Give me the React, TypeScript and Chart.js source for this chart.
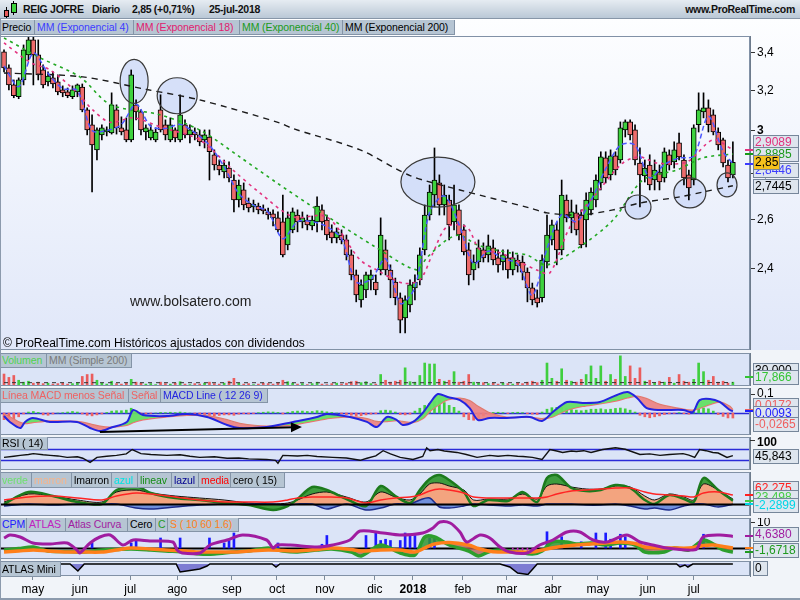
import React, { useEffect, useRef } from "react";
import { Chart, registerables } from "chart.js";

Chart.register(...registerables);

const FONT = '"Liberation Sans", Arial, sans-serif';
const XMIN = -0.82;
const XMAX = 152.5;
const AXIS_W = 50;

// ---------------- DATA ----------------
// candles (one candle per ~2 trading days), may-2017 .. 25-jul-2018
const opens = [
  3.406, 3.319, 3.229, 3.168, 3.255, 3.389, 3.472, 3.389, 3.308, 3.245,
  3.266, 3.245, 3.203, 3.193, 3.168, 3.193, 3.218, 3.102, 3.028, 2.908,
  2.979, 2.993, 2.988, 3.102, 3.013, 3.003, 2.955, 3.127, 3.092, 2.993,
  2.964, 2.955, 3.102, 3.028, 2.955, 3.003, 2.955, 3.028, 2.979, 2.993,
  2.979, 2.955, 2.969, 2.885, 2.838, 2.806, 2.824, 2.77, 2.682, 2.726,
  2.669, 2.652, 2.656, 2.644, 2.631, 2.623, 2.606, 2.589, 2.495, 2.556,
  2.618, 2.589, 2.597, 2.572, 2.589, 2.64, 2.597, 2.548, 2.523, 2.535,
  2.515, 2.455, 2.377, 2.283, 2.32, 2.358, 2.35, 2.396, 2.475, 2.396,
  2.35, 2.291, 2.218, 2.265, 2.328, 2.358, 2.475, 2.618, 2.704, 2.757,
  2.661, 2.682, 2.589, 2.64, 2.556, 2.475, 2.396, 2.427, 2.475, 2.455,
  2.483, 2.443, 2.427, 2.443, 2.396, 2.435, 2.427, 2.388, 2.328, 2.291,
  2.291, 2.427, 2.515, 2.556, 2.475, 2.682, 2.606, 2.627, 2.618, 2.597,
  2.64, 2.682, 2.757, 2.871, 2.793, 2.88, 2.861, 3.003, 3.042, 3.003,
  2.847, 2.788, 2.838, 2.77, 2.806, 2.779, 2.885, 2.852, 2.941, 2.861,
  2.793, 2.77, 3.028, 3.092, 3.112, 3.077, 2.993, 2.955, 2.838, 2.793,
];
const highs = [
  3.417, 3.335, 3.255, 3.266, 3.444, 3.489, 3.489, 3.472, 3.335, 3.298,
  3.298, 3.282, 3.224, 3.213, 3.224, 3.234, 3.234, 3.112, 3.077, 3.013,
  3.028, 3.018, 3.188, 3.127, 3.067, 3.062, 3.308, 3.152, 3.102, 3.028,
  3.028, 3.013, 3.178, 3.052, 3.062, 3.013, 3.178, 3.052, 3.028, 3.013,
  3.003, 3.003, 3.003, 2.908, 2.861, 2.861, 2.852, 2.793, 2.77, 2.757,
  2.691, 2.682, 2.669, 2.661, 2.648, 2.64, 2.631, 2.704, 2.631, 2.648,
  2.64, 2.631, 2.618, 2.614, 2.696, 2.661, 2.618, 2.577, 2.564, 2.556,
  2.535, 2.475, 2.396, 2.358, 2.388, 2.396, 2.377, 2.606, 2.515, 2.416,
  2.365, 2.309, 2.298, 2.358, 2.377, 2.483, 2.661, 2.748, 2.917, 2.793,
  2.748, 2.704, 2.748, 2.661, 2.577, 2.503, 2.455, 2.515, 2.503, 2.535,
  2.515, 2.475, 2.475, 2.475, 2.467, 2.455, 2.451, 2.404, 2.346, 2.32,
  2.455, 2.618, 2.597, 2.589, 2.77, 2.704, 2.682, 2.661, 2.64, 2.713,
  2.735, 2.793, 2.899, 2.899, 2.908, 2.899, 3.042, 3.052, 3.052, 3.028,
  2.917, 2.861, 2.885, 2.861, 2.838, 2.917, 2.908, 2.946, 2.988, 2.885,
  2.815, 3.028, 3.188, 3.188, 3.152, 3.102, 3.013, 2.964, 2.861, 2.946,
];
const lows = [
  3.298, 3.203, 3.163, 3.158, 3.229, 3.362, 3.229, 3.255, 3.213, 3.224,
  3.213, 3.178, 3.168, 3.163, 3.158, 3.168, 3.092, 2.979, 2.717, 2.861,
  2.955, 2.974, 2.983, 2.983, 2.979, 2.946, 2.946, 3.052, 2.979, 2.955,
  2.955, 2.946, 2.993, 2.955, 2.946, 2.946, 2.946, 2.964, 2.941, 2.955,
  2.927, 2.917, 2.77, 2.815, 2.793, 2.779, 2.761, 2.631, 2.652, 2.64,
  2.631, 2.631, 2.623, 2.623, 2.601, 2.572, 2.548, 2.447, 2.475, 2.544,
  2.548, 2.564, 2.556, 2.556, 2.548, 2.556, 2.515, 2.503, 2.503, 2.499,
  2.435, 2.358, 2.276, 2.257, 2.291, 2.32, 2.302, 2.377, 2.377, 2.291,
  2.265, 2.165, 2.165, 2.239, 2.283, 2.339, 2.455, 2.597, 2.652, 2.618,
  2.618, 2.515, 2.556, 2.515, 2.455, 2.339, 2.358, 2.404, 2.427, 2.427,
  2.416, 2.388, 2.396, 2.365, 2.377, 2.388, 2.358, 2.276, 2.265, 2.257,
  2.276, 2.404, 2.495, 2.416, 2.455, 2.589, 2.544, 2.535, 2.483, 2.487,
  2.618, 2.652, 2.726, 2.757, 2.77, 2.793, 2.847, 2.969, 2.955, 2.838,
  2.652, 2.761, 2.726, 2.726, 2.726, 2.761, 2.815, 2.824, 2.861, 2.748,
  2.682, 2.748, 2.993, 3.062, 2.993, 2.979, 2.908, 2.829, 2.761, 2.779,
];
const closes = [
  3.319, 3.229, 3.173, 3.255, 3.417, 3.472, 3.389, 3.282, 3.229, 3.276,
  3.234, 3.193, 3.188, 3.173, 3.203, 3.229, 3.102, 3.003, 2.931, 3.003,
  3.013, 3.003, 3.127, 3.013, 2.993, 2.955, 3.282, 3.092, 3.003, 3.013,
  3.003, 2.993, 3.003, 2.979, 3.028, 2.964, 3.077, 2.979, 3.003, 2.979,
  2.946, 2.979, 2.899, 2.838, 2.815, 2.838, 2.779, 2.682, 2.748, 2.661,
  2.648, 2.665, 2.64, 2.635, 2.618, 2.606, 2.556, 2.455, 2.606, 2.631,
  2.589, 2.606, 2.577, 2.597, 2.656, 2.589, 2.535, 2.523, 2.548, 2.515,
  2.455, 2.377, 2.302, 2.339, 2.377, 2.377, 2.32, 2.535, 2.396, 2.358,
  2.291, 2.21, 2.283, 2.339, 2.35, 2.455, 2.618, 2.717, 2.77, 2.661,
  2.704, 2.577, 2.661, 2.535, 2.467, 2.377, 2.427, 2.483, 2.443, 2.491,
  2.435, 2.416, 2.455, 2.396, 2.443, 2.412, 2.388, 2.328, 2.283, 2.272,
  2.435, 2.535, 2.577, 2.475, 2.704, 2.606, 2.631, 2.556, 2.495, 2.682,
  2.717, 2.77, 2.875, 2.779, 2.88, 2.815, 3.013, 3.042, 2.979, 2.861,
  2.793, 2.824, 2.748, 2.815, 2.761, 2.899, 2.838, 2.908, 2.875, 2.779,
  2.735, 3.013, 3.102, 3.112, 3.028, 2.993, 2.931, 2.847, 2.779, 2.85,
];

const monthTickPos = [5.9, 15.5, 25.8, 35.4, 46.6, 55.8, 65.6, 75.8, 83.6, 93.8, 102.8, 112.2, 121.4, 131.6, 141.0];
const monthTickLabels = ["may", "jun", "jul", "ago", "sep", "oct", "nov", "dic", "2018", "feb", "mar", "abr", "may", "jun", "jul"];
const priceTicks = [2.4, 2.6, 2.8, 3.0, 3.2, 3.4];

const ema4Pts = [[0, 3.33], [3, 3.22], [6, 3.4], [9, 3.29], [12, 3.21], [15, 3.2], [18, 3.0], [21, 3.0], [24, 3.03], [27, 3.13], [30, 3.02], [33, 3.01], [36, 3.03], [39, 2.99], [42, 2.93], [45, 2.83], [48, 2.71], [51, 2.66], [54, 2.63], [57, 2.52], [60, 2.59], [63, 2.59], [66, 2.57], [69, 2.52], [72, 2.35], [75, 2.36], [78, 2.44], [81, 2.27], [84, 2.33], [87, 2.63], [90, 2.7], [93, 2.58], [96, 2.42], [99, 2.47], [102, 2.44], [105, 2.42], [108, 2.3], [111, 2.48], [114, 2.62], [117, 2.59], [120, 2.68], [123, 2.82], [126, 2.93], [129, 2.93], [132, 2.78], [135, 2.84], [138, 2.87], [141, 2.88], [144, 3.07], [147, 2.9], [149, 2.8446]];
const ema18Pts = [[0, 3.455], [5.5, 3.346], [9.4, 3.308], [14.9, 3.19], [18.2, 3.1], [21.7, 3.04], [26.4, 3.062], [31.9, 3.018], [40, 2.955], [46.8, 2.815], [52.3, 2.713], [59.1, 2.61], [66, 2.61], [72.8, 2.435], [76.2, 2.396], [81.5, 2.346], [85, 2.358], [87.7, 2.463], [90.5, 2.568], [94.6, 2.568], [97.3, 2.475], [101.4, 2.463], [108.9, 2.396], [111.6, 2.385], [115.7, 2.568], [121.2, 2.713], [126.5, 2.847], [130, 2.875], [133.5, 2.847], [139.6, 2.852], [144.9, 2.955], [149, 2.9089]];
const ema40Pts = [[0, 3.483], [7.4, 3.373], [15.5, 3.271], [21.7, 3.129], [31.9, 3.077], [40, 3.003], [48.2, 2.875], [55.8, 2.757], [62.5, 2.661], [76.2, 2.483], [84.4, 2.396], [86.4, 2.443], [90.5, 2.515], [93.2, 2.535], [96.7, 2.495], [103.4, 2.463], [106.9, 2.455], [111, 2.416], [117.7, 2.487], [124.5, 2.597], [130.6, 2.77], [137.5, 2.815], [142.9, 2.871], [149, 2.8885]];
const ema200Pts = [[0, 3.292], [16.1, 3.271], [29.2, 3.205], [40, 3.152], [56.4, 3.037], [59, 3.01], [72.8, 2.908], [83, 2.79], [93.2, 2.726], [107.5, 2.648], [111, 2.627], [117.7, 2.618], [124.5, 2.64], [130, 2.669], [138.2, 2.696], [142.9, 2.717], [149, 2.7445]];

// volume (thousands)
const volumes = [
  25, 18, 22, 12, 8, 10, 6, 8, 5, 6,
  4, 5, 6, 4, 5, 7, 20, 24, 25, 12,
  6, 4, 10, 5, 4, 6, 14, 8, 6, 4,
  5, 3, 8, 5, 4, 6, 9, 4, 3, 5,
  4, 6, 8, 5, 4, 6, 10, 16, 6, 4,
  5, 3, 4, 6, 5, 4, 7, 12, 9, 6,
  4, 5, 3, 5, 8, 4, 3, 5, 6, 4,
  6, 9, 10, 7, 9, 5, 4, 24, 12, 8,
  10, 12, 38, 9, 8, 22, 48, 46, 46, 14,
  10, 12, 30, 8, 10, 24, 8, 6, 7, 5,
  6, 4, 6, 5, 4, 6, 5, 8, 10, 7,
  12, 48, 16, 10, 36, 12, 10, 8, 14, 24,
  42, 16, 42, 10, 24, 14, 63, 20, 42, 16,
  38, 10, 12, 6, 10, 8, 18, 6, 24, 10,
  8, 14, 48, 30, 12, 20, 8, 10, 6, 8,
];
const volumeMMPts = [[0, 7], [75, 6.8], [149, 7.2]];

// MACD
const macdX = [0, 1.2, 3.3, 4.3, 5.9, 9.4, 14.9, 17.6, 19.6, 21.7, 25.1, 26.4, 28.4, 33.3, 37.4, 41.5, 45.6, 48.2, 53.7, 59.1, 64, 66, 70.7, 74.2, 76.2, 78.3, 80.3, 81.5, 83.6, 85.6, 87.1, 88.7, 90.7, 93.2, 95.2, 96.9, 99.3, 102.8, 107.5, 110, 112.2, 115.1, 118.3, 121.8, 125.3, 127.5, 129.4, 131.4, 134.1, 138.8, 140.8, 142.2, 144.3, 146.3, 148.4, 149];
const macdLine = [-0.016, -0.047, -0.079, -0.047, -0.026, -0.047, -0.047, -0.079, -0.095, -0.079, -0.047, 0.016, -0.011, -0.016, -0.005, -0.021, -0.063, -0.079, -0.074, -0.047, -0.021, -0.005, -0.021, -0.047, -0.074, -0.021, -0.037, -0.063, -0.047, 0, 0.053, 0.1, 0.084, 0.068, 0.026, -0.037, -0.026, -0.026, -0.021, -0.042, 0.005, 0.058, 0.053, 0.058, 0.095, 0.11, 0.079, 0.026, 0.016, 0.016, 0.005, 0.068, 0.074, 0.058, 0.016, 0.0093];
const macdSignal = [-0.005, -0.02, -0.05, -0.055, -0.05, -0.042, -0.045, -0.058, -0.07, -0.075, -0.065, -0.05, -0.035, -0.02, -0.012, -0.014, -0.035, -0.055, -0.07, -0.062, -0.04, -0.03, -0.02, -0.03, -0.045, -0.045, -0.04, -0.045, -0.05, -0.03, 0.01, 0.04, 0.07, 0.078, 0.065, 0.035, 0, -0.022, -0.022, -0.03, -0.02, 0.015, 0.035, 0.048, 0.065, 0.08, 0.088, 0.075, 0.045, 0.02, 0.015, 0.025, 0.045, 0.058, 0.035, 0.0172];
const macdHist = [
  -0.035, -0.035, -0.03, -0.02, -0.005, 0.005, 0.008, 0.003, -0.01, -0.012,
  -0.005, 0, 0.002, 0.005, 0.008, 0.005, -0.005, -0.012, -0.015, -0.01,
  -0.005, 0.003, 0.01, 0.012, 0.012, 0.015, 0.025, 0.012, -0.008, -0.005,
  -0.002, 0, 0.003, 0.002, 0.004, 0.002, 0.005, 0.002, 0, -0.003,
  -0.006, -0.008, -0.012, -0.015, -0.013, -0.01, -0.01, -0.012, -0.006, -0.004,
  -0.005, -0.003, 0.002, 0.004, 0.006, 0.005, 0.003, -0.005, 0.004, 0.008,
  0.01, 0.01, 0.008, 0.008, 0.012, 0.01, 0.006, 0.003, 0, -0.004,
  -0.008, -0.012, -0.016, -0.014, -0.01, -0.006, -0.004, 0.012, 0.015, 0.012,
  0.005, -0.008, -0.01, -0.006, 0.01, 0.025, 0.04, 0.05, 0.06, 0.068,
  0.055, 0.04, 0.03, 0.01, -0.02, -0.035, -0.038, -0.03, -0.015, -0.005,
  0.003, 0.004, 0.002, -0.003, 0.003, 0.004, 0.002, -0.004, -0.006, -0.008,
  0.005, 0.02, 0.028, 0.03, 0.03, 0.022, 0.018, 0.015, 0.012, 0.015,
  0.02, 0.02, 0.022, 0.018, 0.02, 0.024, 0.026, 0.022, 0.015, 0.005,
  -0.012, -0.02, -0.025, -0.02, -0.015, -0.008, -0.004, -0.002, 0.002, -0.004,
  -0.006, 0.006, 0.02, 0.026, 0.022, 0.01, -0.008, -0.018, -0.026, -0.0265,
];

// RSI (14)
const rsiPts = [[0, 40], [2, 44], [3.3, 47], [5, 50], [6, 53], [8, 49], [9.4, 47], [11, 45], [12.9, 40], [15, 42], [16.1, 37], [17.6, 23], [19, 40], [21, 44], [23, 47], [25, 52], [26.2, 67], [28, 53], [30, 50], [33.3, 47], [36, 49], [38, 44], [40, 40], [43, 42], [45.6, 37], [48, 38], [50, 35], [53.7, 33], [55.5, 30], [56, 20], [57, 47], [60, 45], [62, 47], [64, 43], [67.2, 40], [70, 38], [72.8, 30], [74.2, 37], [76, 45], [77.5, 63], [79, 52], [81, 40], [83.6, 33], [85.6, 43], [86.4, 73], [87.1, 63], [88.7, 67], [90, 62], [92.6, 57], [94.5, 50], [96.7, 40], [99.3, 47], [101, 44], [103, 47], [105, 44], [106.1, 43], [108, 40], [110, 33], [111.6, 67], [113, 62], [114.2, 57], [116, 62], [117, 60], [118.5, 63], [120, 57], [122.4, 67], [125, 73], [127, 68], [130, 50], [132, 52], [134.1, 47], [136, 50], [138.8, 53], [140, 48], [141.2, 40], [142.2, 67], [143.5, 63], [144.9, 57], [146, 55], [147.8, 40], [149, 45.843]];
const rsiLevels = [30, 70];

// verde / marron / azul / media indicator
const indX = [0, 5, 10, 15, 20, 23, 27, 30, 35, 40, 45, 50, 55, 58, 60, 63, 66, 70, 74, 77, 80, 83, 85, 87, 89, 91, 94, 96, 99, 103, 106, 109, 111, 113, 116, 119, 122, 125, 128, 131, 133, 136, 139, 141, 143, 146, 149];
const marron = [14, 70, 56, 28, 14, 84, 98, 77, 56, 42, 28, 7, 0, 7, 28, 70, 84, 49, 14, 84, 49, 28, 70, 140, 147, 126, 98, 28, 35, 35, 70, 35, 126, 140, 119, 105, 105, 126, 119, 56, 28, 70, 49, 28, 140, 98, 35];
const verde = [0, 84, 56, 14, 0, 98, 126, 77, 42, 28, 7, -7, -42, -14, 35, 119, 98, 35, -14, 126, 56, 7, 98, 175, 203, 168, 84, -14, 28, 21, 84, 14, 182, 203, 112, 91, 98, 133, 112, 28, 0, 63, 35, 14, 182, 98, 23.498];
const azul = [-14, 0, -7, 0, 0, 0, -28, -35, -21, -7, 0, 0, 0, -7, 0, 0, -35, 0, -42, -28, 0, 0, 28, 42, -21, -28, -14, 0, -7, -14, -7, -14, 0, 0, 0, -7, -7, 0, -14, -35, -28, -42, -14, 0, 0, -21, -2.2899];
const media = [28, 49, 56, 42, 28, 56, 77, 70, 49, 28, 14, 14, 14, 28, 42, 49, 49, 42, 7, 28, 42, 49, 63, 91, 105, 98, 77, 49, 42, 42, 42, 42, 49, 70, 91, 98, 105, 112, 112, 84, 70, 63, 56, 49, 77, 84, 62.275];

// CPM / ATLAS
const cpmX = [0, 3, 6, 9, 13, 16, 20, 23, 26, 30, 33, 37, 40, 43, 47, 50, 54, 57, 60, 64, 67, 71, 73, 77, 81, 84, 86, 88, 91, 95, 97, 99, 101, 105, 108, 110, 112, 115, 117, 120, 123, 126, 129, 131, 135, 137, 140, 143, 145, 147, 149];
const cLine = [-0.8, -0.2, 0.4, -1.2, -1.4, -1.6, -0.8, -0.6, -0.4, -0.8, -1.2, -1.6, -2.4, -2.4, -1.6, -1.2, 0, -1.2, -1.6, -0.8, -0.4, -1.6, -3.2, 1.2, -2.0, -2.8, 4.4, 4.4, 1.2, -1.2, -3.2, -1.6, -0.8, -1.6, -2.4, -1.2, 2.4, 2.4, 1.6, 2.0, 1.2, 2.0, 1.2, -1.6, -1.6, 0, -0.8, 3.2, 1.6, -0.8, -1.6718];
const sLine = [-1.6, -1.2, -0.8, -1.2, -1.6, -1.6, -1.6, -0.8, 0, -0.4, -0.8, -1.2, -1.6, -1.6, -1.6, -1.2, -0.8, -1.0, -1.2, -0.6, 0, -0.6, -1.2, -0.8, -0.8, -1.6, 0, 1.6, 2.2, 1.2, -0.2, -1.2, -1.6, -1.6, -1.6, -0.8, 0, 0.8, 1.2, 1.6, 2.0, 2.4, 1.8, 0.4, 0, 0, 0, 1.0, 1.2, 0.6, 0];
const atlasPts = [[0, 4], [1.2, 5.2], [3.3, 4.4], [5.9, 2], [9.4, 1.6], [12.9, 2], [14.9, -0.8], [15.5, -2], [17.6, 2], [19.6, 4.4], [21.7, 5.2], [24.3, 1.2], [26.4, 3.2], [29.8, 2.8], [34.5, 2.4], [35.4, -0.8], [36.4, -2], [40.1, -2], [42.1, 1.2], [45.6, 3.2], [48.8, 5.2], [53.7, 3.2], [55, 0], [55.8, 1.2], [58.5, 1.2], [64, 0.4], [67.2, 1.2], [70.7, 3.2], [72.8, 6.8], [77.5, 6], [80.9, 5.2], [85.6, 6], [87.7, 8], [89.1, 10.4], [91.2, 10], [93.2, 6.4], [94.6, 2.4], [97.3, 5.2], [99.3, 4], [101.4, 0.4], [103.4, -1.6], [106.9, -2], [109.5, 1.2], [112.2, 3.2], [115.1, 6.4], [117.7, 6.4], [120.4, 3.2], [123.2, 2.4], [127.3, 5.2], [130, 2.4], [132.6, 1.2], [135.5, 0], [139.6, -0.8], [141.6, -0.4], [142.9, 4.4], [146.3, 5.2], [149, 4.638]];
const cpmSpikes = [[18, 2], [26, 2], [27, 3], [32, 4], [36, 4], [42, 4], [45, 2], [46, 3], [47, 6], [56, 2], [65, 1.5], [66, 5], [74, 5], [76, 6], [77, 3], [78, 3.5], [79, 3], [81, 3], [82, 6], [83, 5], [84, 5], [87, 4], [88, 4.5], [111, 6.5], [114, 4.5], [118, 2.5], [121, 6], [123, 6], [124, 3.5], [126, 5.5], [127, 4.5], [143, 5.5]];
const atlasCurvaBars = [[104, -1.2], [105, -1.5], [106, -1.5], [107, -1.5], [108, -1.2]];

// ATLAS Mini
const miniPts = [[0, 0], [13.5, 0], [15.1, -7], [16.4, 0], [35.2, 0], [36, -8], [38, -6.5], [40, -5], [41.5, -2], [42.1, 0], [54.8, 0], [55.6, -3], [56.4, 0], [101.4, 0], [103.4, -3], [105, -9], [107.1, -10.5], [108.1, -5], [109, 0], [137.5, 0], [138.2, -3], [139.2, -1], [139.8, -3], [140.8, 0], [149, 0]];

// annotations (data coords)
const ellipses = [
  { x: 26.6, y: 3.247, rx: 14, ry: 22 },
  { x: 35.4, y: 3.173, rx: 20, ry: 18 },
  { x: 88.7, y: 2.761, rx: 37, ry: 25 },
  { x: 129.6, y: 2.652, rx: 13, ry: 12 },
  { x: 140.2, y: 2.713, rx: 16, ry: 15 },
  { x: 147.8, y: 2.748, rx: 10, ry: 12 },
];
const macdArrow = { x1: 19.6, y1: -0.1, x2: 60.9, y2: -0.074 };

// ---------------- helpers ----------------
const GREEN = "#3ed23e";
const RED = "#ee6b6b";
const toXY = (pts: number[][]) => pts.map(([x, y]) => ({ x, y }));
const zipXY = (xs: number[], ys: number[]) => xs.map((x, k) => ({ x, y: ys[k] }));
const fmt = (v: number) => String(Math.round(v * 1000) / 1000).replace(".", ",");

const panelPlugin = {
  id: "panel",
  beforeDraw(chart: any, _a: any, opts: any) {
    if (!opts || !opts.bg) return;
    const { ctx, chartArea: a } = chart;
    ctx.save();
    ctx.fillStyle = opts.bg;
    ctx.fillRect(a.left, a.top, a.width, a.height);
    ctx.restore();
  },
  afterDraw(chart: any) {
    const { ctx, chartArea: a } = chart;
    ctx.save();
    ctx.strokeStyle = "#8191a6";
    ctx.lineWidth = 1;
    ctx.strokeRect(a.left + 0.5, a.top + 0.5, a.width - 1, a.height - 1);
    ctx.restore();
  },
};

function drawRefs(chart: any, items: any[], before: boolean) {
  const { ctx, chartArea: a, scales } = chart;
  ctx.save();
  for (const it of items) {
    if (!!it.before !== before) continue;
    const y = Math.round(scales.y.getPixelForValue(it.value)) + 0.5;
    ctx.strokeStyle = it.color;
    ctx.lineWidth = it.width || 1;
    ctx.beginPath();
    ctx.moveTo(a.left, y);
    ctx.lineTo(a.right, y);
    ctx.stroke();
  }
  ctx.restore();
}
const refPlugin = {
  id: "refs",
  beforeDatasetsDraw(chart: any, _a: any, opts: any) {
    if (opts && opts.items) drawRefs(chart, opts.items, true);
  },
  afterDatasetsDraw(chart: any, _a: any, opts: any) {
    if (opts && opts.items) drawRefs(chart, opts.items, false);
  },
};

const boxPlugin = {
  id: "boxes",
  afterDraw(chart: any, _a: any, opts: any) {
    if (!opts || !opts.items) return;
    const { ctx, chartArea: a, scales } = chart;
    ctx.save();
    ctx.textBaseline = "middle";
    for (const it of opts.items) {
      const yv = scales.y.getPixelForValue(it.value);
      if (it.plain) {
        // axis tick label kept inside the panel
        ctx.strokeStyle = "#333";
        ctx.lineWidth = 1;
        ctx.beginPath();
        ctx.moveTo(a.right, Math.round(yv) + 0.5);
        ctx.lineTo(a.right + 5, Math.round(yv) + 0.5);
        ctx.stroke();
        ctx.font = `${it.bold ? "bold " : ""}12px ${FONT}`;
        ctx.fillStyle = "#000";
        ctx.fillText(it.text, a.right + 7, yv + (it.dy || 0));
        continue;
      }
      ctx.font = `12px ${FONT}`;
      if (it.mark) {
        ctx.strokeStyle = it.mark;
        ctx.lineWidth = 2;
        ctx.beginPath();
        ctx.moveTo(a.right - 5, Math.round(yv));
        ctx.lineTo(a.right + 3, Math.round(yv));
        ctx.stroke();
      }
      if (!it.text) continue;
      const y = Math.round(yv + (it.dy || 0));
      const w = it.w || 46;
      const h = 15;
      const x = a.right + 3;
      ctx.fillStyle = it.bg || "#dee5ee";
      ctx.fillRect(x, y - 7, w, h);
      ctx.strokeStyle = "#76869a";
      ctx.lineWidth = 1;
      ctx.strokeRect(x + 0.5, y - 7 + 0.5, w - 1, h - 1);
      ctx.fillStyle = it.color;
      ctx.fillText(it.text, x + 2, y + 1);
    }
    ctx.restore();
  },
};

const ellipsePlugin = {
  id: "ellipses",
  beforeDatasetsDraw(chart: any, _a: any, opts: any) {
    if (!opts || !opts.items) return;
    const { ctx, scales } = chart;
    ctx.save();
    for (const e of opts.items) {
      const px = scales.x.getPixelForValue(e.x);
      const py = scales.y.getPixelForValue(e.y);
      ctx.beginPath();
      ctx.ellipse(px, py, e.rx, e.ry, 0, 0, Math.PI * 2);
      ctx.fillStyle = "rgba(205,218,247,0.8)";
      ctx.fill();
    }
    ctx.restore();
  },
  afterDatasetsDraw(chart: any, _a: any, opts: any) {
    if (!opts || !opts.items) return;
    const { ctx, scales } = chart;
    ctx.save();
    for (const e of opts.items) {
      const px = scales.x.getPixelForValue(e.x);
      const py = scales.y.getPixelForValue(e.y);
      ctx.beginPath();
      ctx.ellipse(px, py, e.rx, e.ry, 0, 0, Math.PI * 2);
      ctx.strokeStyle = "#3a3a3a";
      ctx.lineWidth = 1.2;
      ctx.stroke();
    }
    ctx.restore();
  },
};

const arrowPlugin = {
  id: "arrow",
  afterDatasetsDraw(chart: any, _a: any, opts: any) {
    if (!opts || !opts.item) return;
    const { ctx, scales } = chart;
    const it = opts.item;
    const x1 = scales.x.getPixelForValue(it.x1);
    const y1 = scales.y.getPixelForValue(it.y1);
    const x2 = scales.x.getPixelForValue(it.x2);
    const y2 = scales.y.getPixelForValue(it.y2);
    const ang = Math.atan2(y2 - y1, x2 - x1);
    ctx.save();
    ctx.strokeStyle = "#000";
    ctx.fillStyle = "#000";
    ctx.lineWidth = 2;
    ctx.beginPath();
    ctx.moveTo(x1, y1);
    ctx.lineTo(x2 - 8 * Math.cos(ang), y2 - 8 * Math.sin(ang));
    ctx.stroke();
    ctx.beginPath();
    ctx.moveTo(x2, y2);
    ctx.lineTo(x2 - 11 * Math.cos(ang) + 5 * Math.sin(ang), y2 - 11 * Math.sin(ang) - 5 * Math.cos(ang));
    ctx.lineTo(x2 - 11 * Math.cos(ang) - 5 * Math.sin(ang), y2 - 11 * Math.sin(ang) + 5 * Math.cos(ang));
    ctx.closePath();
    ctx.fill();
    ctx.restore();
  },
};

const PLUGINS = [panelPlugin, refPlugin, ellipsePlugin, arrowPlugin, boxPlugin];

function hiddenX() {
  return { type: "linear", min: XMIN, max: XMAX, display: false, offset: false };
}
function bottomX() {
  return {
    type: "linear",
    min: XMIN,
    max: XMAX,
    offset: false,
    position: "bottom",
    afterFit: (s: any) => {
      s.height = 23;
      s.paddingLeft = 0;
      s.paddingRight = 0;
    },
    afterBuildTicks: (s: any) => {
      s.ticks = monthTickPos.map((v) => ({ value: v }));
    },
    grid: { drawOnChartArea: false, drawTicks: true, tickLength: 4, color: "#7d8b9b" },
    border: { display: false },
    ticks: {
      autoSkip: false,
      maxRotation: 0,
      padding: 2,
      color: "#000",
      callback: (_v: any, i: number) => monthTickLabels[i],
      font: (c: any) => ({ family: FONT, size: 12, weight: monthTickLabels[c.index] === "2018" ? "bold" : "normal" }),
    },
  };
}
function rightY(type: string, min: number, max: number, tickVals: number[], boldVal?: number) {
  return {
    type,
    min,
    max,
    position: "right",
    afterFit: (s: any) => {
      s.width = AXIS_W;
      s.paddingTop = 0;
      s.paddingBottom = 0;
      s.paddingLeft = 0;
      s.paddingRight = 0;
    },
    afterBuildTicks: (s: any) => {
      s.ticks = tickVals.map((v) => ({ value: v }));
    },
    grid: { drawOnChartArea: false, drawTicks: true, tickLength: 5, color: "#333" },
    border: { display: true, color: "#6d7b8c", width: 1 },
    ticks: {
      color: "#000",
      padding: 2,
      autoSkip: false,
      callback: (v: any) => fmt(Number(v)),
      font: (c: any) => ({ family: FONT, size: 12, weight: c.tick && c.tick.value === boldVal ? "bold" : "normal" }),
    },
  };
}
function opts(y: any, x: any, plugins: any) {
  return {
    responsive: false,
    animation: false,
    devicePixelRatio: 1,
    events: [],
    layout: { padding: 0 },
    plugins: { legend: { display: false }, tooltip: { enabled: false }, ...plugins },
    scales: { x, y },
  };
}
const lineDs = (data: any[], color: string, width: number, extra: any = {}) => ({
  type: "line",
  data,
  borderColor: color,
  borderWidth: width,
  pointRadius: 0,
  tension: 0.3,
  fill: false,
  ...extra,
});

const PANEL_BG = "#dbe4f7";

// ---------------- UI ----------------
type LegendItem = { text: string; color: string; w: number };
function LegendRow({ top, items, h }: { top: number; items: LegendItem[]; h: number }) {
  let left = 0;
  return (
    <>
      {items.map((it, k) => {
        const el = (
          <div
            key={k}
            style={{
              position: "absolute",
              left,
              top,
              width: it.w,
              height: h,
              background: "#b6c5d3",
              borderRight: "1px solid #8494a7",
              borderBottom: "1px solid #8494a7",
              color: it.color,
              font: `10.5px ${FONT}`,
              letterSpacing: "-0.1px",
              lineHeight: h - 1 + "px",
              paddingLeft: 2,
              boxSizing: "border-box",
              whiteSpace: "nowrap",
              overflow: "hidden",
            }}
          >
            {it.text}
          </div>
        );
        left += it.w;
        return el;
      })}
    </>
  );
}

const P = {
  price: { top: 36, h: 314 },
  vol: { top: 353, h: 33 },
  macd: { top: 388, h: 47 },
  rsi: { top: 437, h: 33 },
  ind: { top: 472, h: 44 },
  cpm: { top: 518, h: 41 },
  mini: { top: 561, h: 38 },
};

const headStyle = { position: "absolute" as const, top: 3, font: `bold 10.5px ${FONT}`, letterSpacing: "-0.3px", color: "#111" };

export default function App() {
  const priceRef = useRef<HTMLCanvasElement>(null);
  const volRef = useRef<HTMLCanvasElement>(null);
  const macdRef = useRef<HTMLCanvasElement>(null);
  const rsiRef = useRef<HTMLCanvasElement>(null);
  const indRef = useRef<HTMLCanvasElement>(null);
  const cpmRef = useRef<HTMLCanvasElement>(null);
  const miniRef = useRef<HTMLCanvasElement>(null);

  useEffect(() => {
    const charts: Chart[] = [];
    const idx = closes.map((_, i) => i);
    const candleColors = idx.map((i) => (closes[i] >= opens[i] ? GREEN : RED));

    // PRICE
    charts.push(
      new Chart(priceRef.current as HTMLCanvasElement, {
        type: "bar",
        data: {
          datasets: [
            lineDs(toXY(ema4Pts), "#4b57ff", 1.5, { borderDash: [5, 3], order: 1 }),
            lineDs(toXY(ema18Pts), "#e3317e", 1.6, { borderDash: [3, 4], order: 2 }),
            lineDs(toXY(ema40Pts), "#22a822", 1.6, { borderDash: [3, 4], order: 2 }),
            lineDs(toXY(ema200Pts), "#1a1a1a", 1.4, { borderDash: [6, 5], order: 3 }),
            {
              type: "bar",
              data: idx.map((i) => ({ x: i, y: [opens[i], closes[i]] })),
              backgroundColor: candleColors,
              borderColor: "#000",
              borderWidth: 1,
              borderSkipped: false,
              barThickness: 5,
              grouped: false,
              order: 4,
            },
            {
              type: "bar",
              data: idx.map((i) => ({ x: i, y: [lows[i], highs[i]] })),
              backgroundColor: "#000",
              barThickness: 1,
              grouped: false,
              order: 5,
            },
          ] as any,
        },
        options: opts(rightY("logarithmic", 2.106, 3.494, priceTicks, 3), hiddenX(), {
          ellipses: { items: ellipses },
          boxes: {
            items: [
              { value: 2.9089, text: "2,9089", color: "#e3317e", dy: -8, mark: "#e3317e" },
              { value: 2.8885, text: "2,8885", color: "#1a9a1a", dy: 0, mark: "#1a9a1a" },
              { value: 2.8446, text: "2,8446", color: "#3c3cff", dy: 6, mark: "#3c3cff" },
              { value: 2.7445, text: "2,7445", color: "#000", dy: 0 },
              { value: 2.85, text: "2,85", color: "#000", bg: "#f5c21c", w: 27, dy: 0 },
            ],
          },
        }) as any,
        plugins: PLUGINS as any,
      })
    );

    // VOLUME
    charts.push(
      new Chart(volRef.current as HTMLCanvasElement, {
        type: "bar",
        data: {
          datasets: [
            lineDs(toXY(volumeMMPts), "#333", 1, { borderDash: [4, 4], order: 1, tension: 0 }),
            {
              type: "bar",
              data: idx.map((i) => ({ x: i, y: volumes[i] })),
              backgroundColor: candleColors.map((c) => (c === GREEN ? "#3fcf3f" : "#ea5d5d")),
              barThickness: 2,
              grouped: false,
              order: 2,
            },
          ] as any,
        },
        options: opts(rightY("linear", 0, 69, []), hiddenX(), {
          panel: { bg: PANEL_BG },
          boxes: {
            items: [
              { value: 30, text: "30,000", color: "#000", dy: -2 },
              { value: 17.866, text: "17,866", color: "#33c433", mark: "#33c433" },
            ],
          },
        }) as any,
        plugins: PLUGINS as any,
      })
    );

    // MACD
    charts.push(
      new Chart(macdRef.current as HTMLCanvasElement, {
        type: "bar",
        data: {
          datasets: [
            lineDs(zipXY(macdX, macdLine), "#2424e0", 2, {
              order: 1,
              fill: { target: 1, above: "rgba(100,222,100,0.95)", below: "rgba(236,128,128,0.9)" },
            }),
            lineDs(zipXY(macdX, macdSignal), "#ef6f6f", 1.5, { order: 2 }),
            {
              type: "bar",
              data: idx.map((i) => ({ x: i, y: macdHist[i] })),
              backgroundColor: macdHist.map((v) => (v >= 0 ? "#3fcf3f" : "#ef6262")),
              barThickness: 2,
              grouped: false,
              order: 3,
            },
          ] as any,
        },
        options: opts(rightY("linear", -0.1158, 0.1316, [0.1]), hiddenX(), {
          panel: { bg: PANEL_BG },
          refs: { items: [{ value: 0, color: "#2a2ad6", width: 1.5, before: true }] },
          arrow: { item: macdArrow },
          boxes: {
            items: [
              { value: 0.0172, text: "0,0172", color: "#ef5f5f", dy: -5, mark: "#ef5f5f" },
              { value: 0.0093, text: "0,0093", color: "#2020ff", dy: 2, mark: "#2020ff" },
              { value: -0.0265, text: "-0,0265", color: "#ef5f5f", dy: 6 },
            ],
          },
        }) as any,
        plugins: PLUGINS as any,
      })
    );

    // RSI
    charts.push(
      new Chart(rsiRef.current as HTMLCanvasElement, {
        type: "line",
        data: {
          datasets: [lineDs(toXY(rsiPts), "#111", 1.4, { tension: 0 })] as any,
        },
        options: opts(rightY("linear", -3.3, 110, []), hiddenX(), {
          panel: { bg: PANEL_BG },
          refs: { items: rsiLevels.map((v) => ({ value: v, color: "#2b2bd8", width: 1.5, before: true })) },
          boxes: {
            items: [
              { value: 100, text: "100", plain: true, bold: true, dy: 3 },
              { value: 45.843, text: "45,843", color: "#000" },
            ],
          },
        }) as any,
        plugins: PLUGINS as any,
      })
    );

    // verde / marron indicator
    charts.push(
      new Chart(indRef.current as HTMLCanvasElement, {
        type: "line",
        data: {
          datasets: [
            lineDs(zipXY(indX, verde), "rgba(0,0,0,0)", 0, { fill: "origin", backgroundColor: "#3e9c3e", order: 10 }),
            lineDs(zipXY(indX, marron), "#111", 1, { fill: "origin", backgroundColor: "#f3a47f", order: 9 }),
            lineDs(zipXY(indX, azul), "#1d2d8c", 1.5, { fill: "origin", backgroundColor: "#6f8fdc", order: 8 }),
            lineDs(zipXY(indX, verde), "#1c7a1c", 2.5, { order: 3 }),
            lineDs(zipXY(indX, media), "#ff2424", 1.5, { order: 2 }),
          ] as any,
        },
        options: opts(rightY("linear", -84, 224, []), hiddenX(), {
          panel: { bg: PANEL_BG },
          refs: { items: [{ value: 0, color: "#000", width: 2 }] },
          boxes: {
            items: [
              { value: 62.275, text: "62,275", color: "#ff2020", dy: -7, mark: "#ff2020" },
              { value: 23.498, text: "23,498", color: "#44cc44", dy: -4, mark: "#44cc44" },
              { value: -2.2899, text: "-2,2899", color: "#00d6e6", dy: 1, mark: "#00d6e6" },
            ],
          },
        }) as any,
        plugins: PLUGINS as any,
      })
    );

    // CPM / ATLAS
    charts.push(
      new Chart(cpmRef.current as HTMLCanvasElement, {
        type: "bar",
        data: {
          datasets: [
            lineDs(toXY(atlasPts), "#a01ca0", 3, { order: 1 }),
            lineDs(zipXY(cpmX, cLine), "#2d9e2d", 3.5, {
              order: 3,
              fill: { target: 2, above: "rgba(50,150,50,0.85)", below: "rgba(180,95,85,0.8)" },
            }),
            lineDs(zipXY(cpmX, sLine), "#ff7f1a", 3.5, { order: 2 }),
            {
              type: "bar",
              data: toXY(cpmSpikes),
              backgroundColor: "#1a1aff",
              barThickness: 2,
              grouped: false,
              order: 6,
            },
            {
              type: "bar",
              data: toXY(atlasCurvaBars),
              backgroundColor: "#c020c0",
              barThickness: 1,
              grouped: false,
              order: 7,
            },
          ] as any,
        },
        options: opts(rightY("linear", -4.4, 12, [10]), hiddenX(), {
          panel: { bg: PANEL_BG },
          refs: { items: [{ value: 0, color: "#000", width: 2, before: true }] },
          boxes: {
            items: [
              { value: 4.638, text: "4,6380", color: "#a01ca0", dy: -2, mark: "#a01ca0" },
              { value: 0, mark: "#ff7f1a" },
              { value: -1.6718, text: "-1,6718", color: "#1f9a1f", dy: -2, mark: "#1f9a1f" },
            ],
          },
        }) as any,
        plugins: PLUGINS as any,
      })
    );

    // ATLAS Mini + time axis
    charts.push(
      new Chart(miniRef.current as HTMLCanvasElement, {
        type: "line",
        data: {
          datasets: [
            lineDs(toXY(miniPts), "#000", 1.5, { tension: 0, fill: "origin", backgroundColor: "rgba(108,106,205,0.85)" }),
          ] as any,
        },
        options: opts(rightY("linear", -12, 3, []), bottomX(), {
          panel: { bg: PANEL_BG },
          boxes: { items: [{ value: 0, text: "0", color: "#000", w: 15, dy: 4 }] },
        }) as any,
        plugins: PLUGINS as any,
      })
    );

    return () => charts.forEach((c) => c.destroy());
  }, []);

  const canvasStyle = (p: { top: number; h: number }) => ({
    position: "absolute" as const,
    left: 0,
    top: p.top,
    width: 800,
    height: p.h,
  });

  return (
    <div
      style={{
        position: "fixed",
        left: 0,
        top: 0,
        width: 800,
        height: 600,
        background: "#f1f4f9",
        overflow: "hidden",
        fontFamily: FONT,
      }}
    >
      {/* header */}
      <div
        style={{
          position: "absolute",
          left: 0,
          top: 0,
          width: 800,
          height: 19,
          background: "linear-gradient(#e6ecf2, #bac8d6)",
          borderBottom: "1px solid #8796a8",
          boxSizing: "border-box",
        }}
      >
        <div style={{ position: "absolute", left: 6, top: 7, width: 1, height: 11, background: "#000" }} />
        <div style={{ position: "absolute", left: 4, top: 10, width: 5, height: 7, background: "#e95c5c", border: "1px solid #000", boxSizing: "border-box" }} />
        <div style={{ position: "absolute", left: 13, top: 1, width: 1, height: 14, background: "#000" }} />
        <div style={{ position: "absolute", left: 11, top: 3, width: 6, height: 10, background: "#3ed23e", border: "1px solid #000", boxSizing: "border-box" }} />
        <span style={{ ...headStyle, left: 23 }}>REIG JOFRE</span>
        <span style={{ ...headStyle, left: 92 }}>Diario</span>
        <span style={{ ...headStyle, left: 132 }}>2,85 (+0,71%)</span>
        <span style={{ ...headStyle, left: 209 }}>25-jul-2018</span>
        <span style={{ ...headStyle, left: undefined, right: 5 }}>www.ProRealTime.com</span>
      </div>

      {/* price background */}
      <div
        style={{
          position: "absolute",
          left: 0,
          top: 19,
          width: 800,
          height: 331,
          background: "linear-gradient(#fdfeff, #e0e7f9)",
        }}
      />

      <canvas ref={priceRef} width={800} height={P.price.h} style={canvasStyle(P.price)} />
      <canvas ref={volRef} width={800} height={P.vol.h} style={canvasStyle(P.vol)} />
      <canvas ref={macdRef} width={800} height={P.macd.h} style={canvasStyle(P.macd)} />
      <canvas ref={rsiRef} width={800} height={P.rsi.h} style={canvasStyle(P.rsi)} />
      <canvas ref={indRef} width={800} height={P.ind.h} style={canvasStyle(P.ind)} />
      <canvas ref={cpmRef} width={800} height={P.cpm.h} style={canvasStyle(P.cpm)} />
      <canvas ref={miniRef} width={800} height={P.mini.h} style={canvasStyle(P.mini)} />

      {/* legends */}
      <LegendRow
        top={20}
        h={15}
        items={[
          { text: "Precio", color: "#000", w: 35 },
          { text: "MM (Exponencial 4)", color: "#3c3cff", w: 99 },
          { text: "MM (Exponencial 18)", color: "#e0206e", w: 106 },
          { text: "MM (Exponencial 40)", color: "#1a9a1a", w: 103 },
          { text: "MM (Exponencial 200)", color: "#000", w: 112 },
        ]}
      />
      <LegendRow
        top={354}
        h={14}
        items={[
          { text: "Volumen", color: "#4fd34f", w: 47 },
          { text: "MM (Simple 200)", color: "#7a7a7a", w: 85 },
        ]}
      />
      <LegendRow
        top={389}
        h={14}
        items={[
          { text: "Línea MACD menos Señal", color: "#ef6262", w: 129 },
          { text: "Señal", color: "#ef6262", w: 32 },
          { text: "MACD Line ( 12 26 9)", color: "#2424e0", w: 107 },
        ]}
      />
      <LegendRow top={437} h={13} items={[{ text: "RSI ( 14)", color: "#000", w: 48 }]} />
      <LegendRow
        top={473}
        h={15}
        items={[
          { text: "verde", color: "#6fe06f", w: 32 },
          { text: "marron", color: "#f6b48a", w: 40 },
          { text: "lmarron", color: "#000", w: 40 },
          { text: "azul", color: "#00e4e4", w: 26 },
          { text: "lineav", color: "#148c14", w: 34 },
          { text: "lazul", color: "#000090", w: 27 },
          { text: "media", color: "#ff0000", w: 32 },
          { text: "cero ( 15)", color: "#000", w: 54 },
        ]}
      />
      <LegendRow
        top={518}
        h={14}
        items={[
          { text: "CPM", color: "#2020ff", w: 27 },
          { text: "ATLAS", color: "#c020c0", w: 39 },
          { text: "Atlas Curva", color: "#a01ca0", w: 62 },
          { text: "Cero", color: "#000", w: 28 },
          { text: "C", color: "#1f9a1f", w: 12 },
          { text: "S ( 10 60 1.6)", color: "#ff7f1a", w: 71 },
        ]}
      />
      <LegendRow top={562} h={15} items={[{ text: "ATLAS Mini", color: "#000", w: 61 }]} />

      {/* texts on price panel */}
      <div style={{ position: "absolute", left: 130, top: 293, font: `14px ${FONT}`, color: "#222" }}>www.bolsatero.com</div>
      <div style={{ position: "absolute", left: 3, top: 336, font: `12px ${FONT}`, color: "#000" }}>
        © ProRealTime.com Históricos ajustados con dividendos
      </div>

      {/* frame */}
      <div style={{ position: "absolute", left: 0, top: 598, width: 800, height: 2, background: "#8c9aad" }} />
      <div style={{ position: "absolute", left: 0, top: 19, width: 1, height: 580, background: "#8c9aad" }} />
    </div>
  );
}
